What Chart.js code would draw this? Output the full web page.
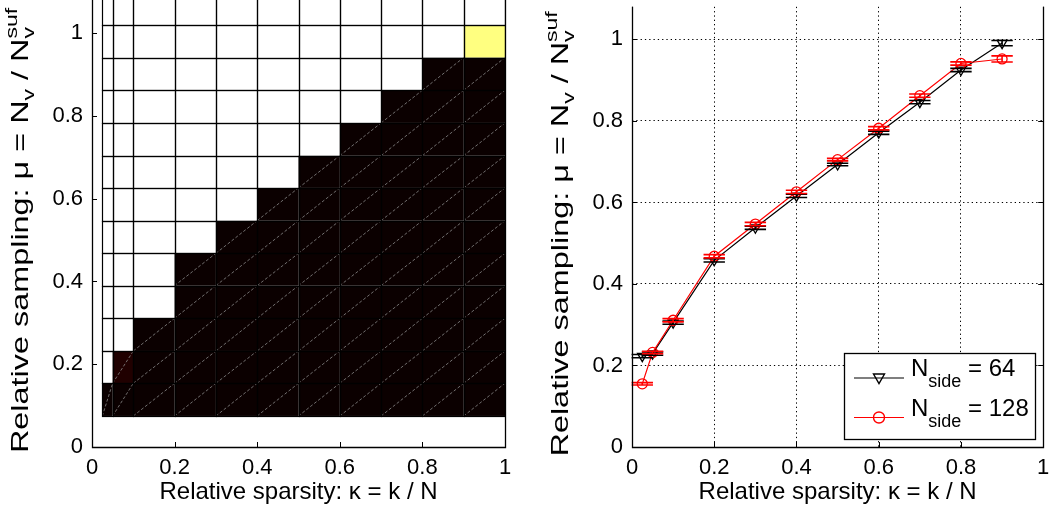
<!DOCTYPE html>
<html><head><meta charset="utf-8">
<script src="https://cdn.jsdelivr.net/npm/chart.js@4.4.0/dist/chart.umd.min.js"></script>
<style>
html,body{margin:0;padding:0;background:#fff;}
#wrap{position:relative;width:1050px;height:508px;overflow:hidden;background:#fff;}
canvas{position:absolute;top:0;}
</style></head><body>
<div id="wrap">
<canvas id="left" width="525" height="508" style="left:0;width:525px;height:508px"></canvas>
<canvas id="right" width="525" height="508" style="left:525px;width:525px;height:508px"></canvas>
</div>
<script>
// ---------------- data ----------------
const kappa = [0.025, 0.05, 0.1, 0.2, 0.3, 0.4, 0.5, 0.6, 0.7, 0.8, 0.9];
const kappaEdges = [0.025, 0.05, 0.1, 0.2, 0.3, 0.4, 0.5, 0.6, 0.7, 0.8, 0.9, 1.0];
const muEdges = [0.075, 0.154, 0.232, 0.311, 0.390, 0.468, 0.547, 0.626, 0.704, 0.783, 0.862, 0.941, 1.019, 1.098];
// success rate per kappa column, rows from bottom (mu) to top
const col0  = [0, 1, 1, 1, 1, 1, 1, 1, 1, 1, 1, 1, 1];
const col1  = [0, 0.035, 1, 1, 1, 1, 1, 1, 1, 1, 1, 1, 1];
const col2  = [0, 0, 0, 1, 1, 1, 1, 1, 1, 1, 1, 1, 1];
const col3  = [0, 0, 0, 0, 0, 1, 1, 1, 1, 1, 1, 1, 1];
const col4  = [0, 0, 0, 0, 0, 0, 1, 1, 1, 1, 1, 1, 1];
const col5  = [0, 0, 0, 0, 0, 0, 0, 1, 1, 1, 1, 1, 1];
const col6  = [0, 0, 0, 0, 0, 0, 0, 0, 1, 1, 1, 1, 1];
const col7  = [0, 0, 0, 0, 0, 0, 0, 0, 0, 1, 1, 1, 1];
const col8  = [0, 0, 0, 0, 0, 0, 0, 0, 0, 0, 1, 1, 1];
const col9  = [0, 0, 0, 0, 0, 0, 0, 0, 0, 0, 0, 1, 1];
const col10 = [0, 0, 0, 0, 0, 0, 0, 0, 0, 0, 0, 0.875, 1];
const successCols = [col0, col1, col2, col3, col4, col5, col6, col7, col8, col9, col10];

const mu64  = [0.223, 0.229, 0.305, 0.458, 0.538, 0.616, 0.693, 0.771, 0.846, 0.925, 0.991];
const err64 = [0.004, 0.004, 0.004, 0.004, 0.004, 0.004, 0.003, 0.004, 0.004, 0.004, 0.0065];
const mu128  = [0.155, 0.232, 0.311, 0.468, 0.547, 0.626, 0.705, 0.782, 0.862, 0.941, 0.952];
const err128 = [0.003, 0.003, 0.004, 0.004, 0.004, 0.004, 0.003, 0.004, 0.004, 0.004, 0.0075];

const xTicks = [0, 0.2, 0.4, 0.6, 0.8, 1];
const yTicks = [0, 0.2, 0.4, 0.6, 0.8, 1];
const tickLabels = ['0', '0.2', '0.4', '0.6', '0.8', '1'];
const xTitle = 'Relative sparsity: \u03ba = k / N';
const yTitleParts = [
  {t: 'Relative sampling: \u03bc = N', sub: 0},
  {t: 'v', sub: 1},
  {t: ' / N', sub: 0},
  {t: 'v', sub: 1},
  {t: 'suf', sub: -1, stack: true}
];
const legendEntries = [
  {main: 'N', sub: 'side', rest: ' = 64', color: '#000000', style: 'triangle'},
  {main: 'N', sub: 'side', rest: ' = 128', color: '#ff0000', style: 'circle'}
];

// ---------------- helpers ----------------
const FONT = "'Liberation Sans', Arial, Helvetica, sans-serif";
Chart.defaults.font.family = FONT;
Chart.defaults.color = '#000';

function hot(v) {
  const n = Math.min(63, Math.floor(v * 63)) + 1;
  const cl = t => Math.max(0, Math.min(1, t));
  const r = cl(n / 24), g = cl((n - 24) / 24), b = cl((n - 48) / 16);
  return `rgb(${Math.round(r * 255)},${Math.round(g * 255)},${Math.round(b * 255)})`;
}

function drawRich(ctx, parts, x, y, big, small) {
  let cx = x, prevStart = x;
  for (const p of parts) {
    ctx.font = `${p.sub ? small : big}px ${FONT}`;
    const start = p.stack ? prevStart : cx;
    const dy = p.sub === 1 ? small * 0.38 : (p.sub === -1 ? -big * 0.45 : 0);
    ctx.fillText(p.t, start, y + dy);
    const w = ctx.measureText(p.t).width;
    prevStart = start;
    cx = Math.max(cx, start + w);
  }
  return cx - x;
}
function richWidth(ctx, parts, big, small) {
  let cx = 0, prevStart = 0;
  for (const p of parts) {
    ctx.font = `${p.sub ? small : big}px ${FONT}`;
    const start = p.stack ? prevStart : cx;
    prevStart = start;
    cx = Math.max(cx, start + ctx.measureText(p.t).width);
  }
  return cx;
}

// axes box, inward ticks and rotated y title
function axesPlugin(opts) {
  return {
    id: 'matlabAxes',
    afterDraw(chart) {
      const {ctx, chartArea: a, scales: {x, y}} = chart;
      ctx.save();
      ctx.strokeStyle = '#000';
      ctx.lineWidth = 1.3;
      ctx.beginPath();
      ctx.moveTo(Math.round(a.left) + 0.5, a.top);
      ctx.lineTo(Math.round(a.left) + 0.5, Math.round(a.bottom) + 0.5);
      ctx.lineTo(Math.round(a.right) + 0.5, Math.round(a.bottom) + 0.5);
      ctx.lineTo(Math.round(a.right) + 0.5, a.top);
      ctx.stroke();
      ctx.lineWidth = 1;
      ctx.beginPath();
      for (const v of xTicks) {
        const px = Math.round(x.getPixelForValue(v)) + 0.5;
        ctx.moveTo(px, a.bottom); ctx.lineTo(px, a.bottom - 5);
      }
      for (const v of yTicks) {
        const py = Math.round(y.getPixelForValue(v)) + 0.5;
        ctx.moveTo(a.left, py); ctx.lineTo(a.left + 5, py);
        if (opts.rightTicks) { ctx.moveTo(a.right, py); ctx.lineTo(a.right - 5, py); }
      }
      ctx.stroke();
      // y title
      const big = 24, small = 17, stretch = opts.stretch;
      const w = richWidth(ctx, yTitleParts, big, small) * stretch;
      const cy = (a.top + a.bottom) / 2 + opts.titleShift;
      ctx.translate(opts.titleX, cy + w / 2);
      ctx.rotate(-Math.PI / 2);
      ctx.scale(stretch, 1);
      ctx.fillStyle = '#000';
      ctx.textBaseline = 'alphabetic';
      drawRich(ctx, yTitleParts, 0, 0, big, small);
      ctx.restore();
    }
  };
}

const heatPlugin = {
  id: 'heat',
  beforeDatasetsDraw(chart) {
    const {ctx, chartArea: a, scales: {x, y}} = chart;
    ctx.save();
    ctx.beginPath();
    ctx.rect(a.left, a.top, a.right - a.left, a.bottom - a.top);
    ctx.clip();
    const cells = [];
    successCols.forEach((col, i) => {
      col.forEach((v, j) => {
        const x0 = x.getPixelForValue(kappaEdges[i]), x1 = x.getPixelForValue(kappaEdges[i + 1]);
        const y0 = y.getPixelForValue(muEdges[j]), y1 = y.getPixelForValue(muEdges[j + 1]);
        cells.push({x0, x1, y0, y1, v});
      });
    });
    for (const c of cells) {
      ctx.fillStyle = hot(c.v);
      ctx.fillRect(c.x0, c.y1, c.x1 - c.x0, c.y0 - c.y1);
    }
    // triangle seams of the shaded mesh
    ctx.strokeStyle = 'rgba(135,135,135,0.9)';
    ctx.lineWidth = 0.9;
    ctx.setLineDash([3, 2]);
    for (const c of cells) {
      if (c.v > 0.5) continue;
      ctx.beginPath();
      ctx.moveTo(c.x0, c.y0); ctx.lineTo(c.x1, c.y1);
      ctx.stroke();
    }
    ctx.setLineDash([]);
    ctx.strokeStyle = '#000';
    ctx.lineWidth = 1.2;
    for (const c of cells) {
      ctx.strokeRect(Math.round(c.x0) + 0.5, Math.round(c.y1) + 0.5,
        Math.round(c.x1) - Math.round(c.x0), Math.round(c.y0) - Math.round(c.y1));
    }
    ctx.restore();
  }
};

function scaleX(grid) {
  return {
    type: 'linear', min: 0, max: 1,
    afterBuildTicks: s => { s.ticks = xTicks.map(v => ({value: v})); },
    afterFit: s => { s.height = 61; s.paddingLeft = 0; s.paddingRight = 0; },
    ticks: {font: {size: 22}, color: '#000', padding: 8, autoSkip: false, maxRotation: 0,
      callback: (v) => tickLabels[xTicks.indexOf(v)]},
    grid: grid ? {display: true, color: '#000', lineWidth: 1, drawTicks: false} : {display: false, drawTicks: false},
    border: grid ? {display: false, dash: [1.3, 3]} : {display: false},
    title: {display: true, text: xTitle, font: {size: 24}, color: '#000', padding: {top: 0, bottom: 1}}
  };
}
function scaleY(grid, width) {
  return {
    type: 'linear', min: 0, max: 1.08,
    afterBuildTicks: s => { s.ticks = yTicks.map(v => ({value: v})); },
    afterFit: s => { s.width = width; s.paddingTop = 0; s.paddingBottom = 0; },
    ticks: {font: {size: 22}, color: '#000', padding: 9, autoSkip: false,
      callback: (v) => tickLabels[yTicks.indexOf(v)]},
    grid: grid ? {display: true, color: '#000', lineWidth: 1, drawTicks: false} : {display: false, drawTicks: false},
    border: grid ? {display: false, dash: [1.3, 3]} : {display: false},
    title: {display: false}
  };
}

// ---------------- left chart: phase diagram ----------------
new Chart(document.getElementById('left'), {
  type: 'scatter',
  data: {datasets: [{data: []}]},
  options: {
    responsive: false, animation: false, devicePixelRatio: 1,
    layout: {padding: {left: 0, right: 20, top: 0, bottom: 0}},
    plugins: {legend: {display: false}, tooltip: {enabled: false}},
    scales: {x: scaleX(false), y: scaleY(false, 92)}
  },
  plugins: [heatPlugin, axesPlugin({rightTicks: false, titleX: 28, titleShift: 7, stretch: 1.35})]
});

// ---------------- right chart: transition curves ----------------
const errorBarPlugin = {
  id: 'errbars',
  afterDatasetsDraw(chart) {
    const {ctx, scales: {x, y}} = chart;
    const sets = [{mu: mu64, err: err64, color: '#000'}, {mu: mu128, err: err128, color: '#ff0000'}];
    ctx.save();
    ctx.lineWidth = 1.6;
    for (const s of sets) {
      ctx.strokeStyle = s.color;
      kappa.forEach((k, i) => {
        const px = x.getPixelForValue(k);
        const xl = x.getPixelForValue(k - 0.026), xr = x.getPixelForValue(k + 0.026);
        const yl = y.getPixelForValue(s.mu[i] - s.err[i]), yh = y.getPixelForValue(s.mu[i] + s.err[i]);
        ctx.beginPath();
        ctx.moveTo(px, yl); ctx.lineTo(px, yh);
        ctx.moveTo(xl, yl); ctx.lineTo(xr, yl);
        ctx.moveTo(xl, yh); ctx.lineTo(xr, yh);
        ctx.stroke();
      });
    }
    ctx.restore();
  }
};

const legendPlugin = {
  id: 'mlegend',
  afterDraw(chart) {
    const {ctx, chartArea: a} = chart;
    const w = 191, h = 86;
    const left = Math.round(a.right - 8.5 - w), top = Math.round(a.bottom - 8.5 - h);
    ctx.save();
    ctx.fillStyle = '#fff';
    ctx.fillRect(left, top, w, h);
    ctx.strokeStyle = '#000';
    ctx.lineWidth = 1.3;
    ctx.strokeRect(left + 0.5, top + 0.5, w, h);
    legendEntries.forEach((e, i) => {
      const ly = top + 25 + i * 39.5;
      ctx.strokeStyle = e.color;
      ctx.lineWidth = 1.2;
      ctx.beginPath();
      ctx.moveTo(left + 10, ly); ctx.lineTo(left + 60, ly);
      ctx.stroke();
      const mx = left + 35;
      ctx.lineWidth = 1.4;
      ctx.beginPath();
      if (e.style === 'circle') {
        ctx.arc(mx, ly, 5.5, 0, Math.PI * 2);
      } else {
        ctx.moveTo(mx - 5.5, ly - 4); ctx.lineTo(mx + 5.5, ly - 4); ctx.lineTo(mx, ly + 5.5); ctx.closePath();
      }
      ctx.stroke();
      ctx.fillStyle = '#000';
      ctx.textBaseline = 'alphabetic';
      let tx = left + 67;
      ctx.font = `24px ${FONT}`;
      ctx.fillText(e.main, tx, ly - 2); tx += ctx.measureText(e.main).width;
      ctx.font = `18px ${FONT}`;
      ctx.fillText(e.sub, tx, ly + 9); tx += ctx.measureText(e.sub).width;
      ctx.font = `24px ${FONT}`;
      ctx.fillText(e.rest, tx, ly - 2);
    });
    ctx.restore();
  }
};

new Chart(document.getElementById('right'), {
  type: 'scatter',
  data: {
    datasets: [
      {label: 'N_side = 128', data: kappa.map((k, i) => ({x: k, y: mu128[i]})), showLine: true,
       borderColor: '#ff0000', borderWidth: 1.2, pointStyle: 'circle', pointRadius: 5,
       pointBorderColor: '#ff0000', pointBackgroundColor: 'rgba(0,0,0,0)', pointBorderWidth: 1.3, order: 0},
      {label: 'N_side = 64', data: kappa.map((k, i) => ({x: k, y: mu64[i]})), showLine: true,
       borderColor: '#000000', borderWidth: 1.2, pointStyle: 'triangle', pointRotation: 180, pointRadius: 5.5,
       pointBorderColor: '#000000', pointBackgroundColor: 'rgba(0,0,0,0)', pointBorderWidth: 1.3, order: 1}
    ]
  },
  options: {
    responsive: false, animation: false, devicePixelRatio: 1,
    layout: {padding: {left: 0, right: 3, top: 0, bottom: 0}},
    plugins: {legend: {display: false}, tooltip: {enabled: false}},
    scales: {x: scaleX(true), y: scaleY(true, 107)}
  },
  plugins: [errorBarPlugin, legendPlugin, axesPlugin({rightTicks: true, titleX: 43, titleShift: 7, stretch: 1.35})]
});
</script>
</body></html>
